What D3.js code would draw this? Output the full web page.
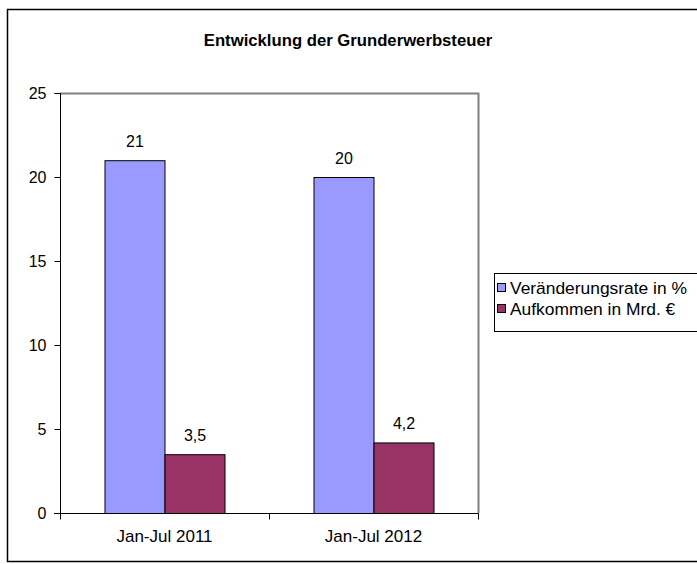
<!DOCTYPE html>
<html>
<head>
<meta charset="utf-8">
<script src="https://cdn.jsdelivr.net/npm/d3@7"></script>
<style>
  html, body { margin: 0; padding: 0; background: #fff; }
  svg { display: block; font-family: "Liberation Sans", Arial, sans-serif; }
</style>
</head>
<body>
<svg id="chart" width="697" height="564"></svg>
<script>
const title = "Entwicklung der Grunderwerbsteuer";
const categories = ["Jan-Jul 2011", "Jan-Jul 2012"];
const seriesNames = ["Veränderungsrate in %", "Aufkommen in Mrd. €"];
const seriesColors = ["#9999FF", "#993366"];
const rateValues = [21, 20];
const revenueValues = [3.5, 4.2];
const yTicks = [0, 5, 10, 15, 20, 25];

const seriesValues = [rateValues, revenueValues];
const svg = d3.select("#chart");

// outer chart border
svg.append("rect")
  .attr("x", 7.5).attr("y", 9.5)
  .attr("width", 720).attr("height", 552)
  .attr("fill", "#fff").attr("stroke", "#000").attr("stroke-width", 1.5);

const plot = { left: 60, right: 478, top: 93, bottom: 513 };

const y = d3.scaleLinear().domain([0, 25]).range([plot.bottom, plot.top]);
const x = d3.scaleBand().domain(categories)
  .range([plot.left, plot.right])
  .paddingInner(0.4258).paddingOuter(0.2129);
const xs = d3.scaleBand().domain(d3.range(seriesNames.length))
  .range([0, x.bandwidth()]);

// plot area border (gray top/right)
svg.append("path")
  .attr("d", `M${plot.left},${plot.top + 0.5}H${plot.right + 0.5}V${plot.bottom}`)
  .attr("fill", "none").attr("stroke", "#808080").attr("stroke-width", 2);

// bars
categories.forEach((c, i) => {
  seriesValues.forEach((vals, s) => {
    const v = vals[i];
    const bx = x(c) + xs(s);
    svg.append("rect")
      .attr("x", bx + 0.5).attr("y", y(v) + 0.5)
      .attr("width", xs.bandwidth()).attr("height", y(0) - y(v))
      .attr("fill", seriesColors[s]).attr("stroke", "#000").attr("stroke-width", 1);
    svg.append("text")
      .attr("x", bx + xs.bandwidth() / 2 + 0.5)
      .attr("y", y(v) - 13)
      .attr("text-anchor", "middle")
      .attr("font-size", 16)
      .text(String(v).replace(".", ","));
  });
});

// y axis
const yAxis = d3.axisLeft(y).tickValues(yTicks).tickSize(6).tickPadding(8);
const gy = svg.append("g").attr("transform", `translate(${plot.left + 0.5},0)`).call(yAxis);
gy.selectAll("text").attr("font-size", 16).attr("font-family", "Liberation Sans, Arial, sans-serif").attr("fill", "#000");
gy.selectAll("line, path").attr("stroke", "#000");
gy.select(".domain").attr("d", `M-6,${y(25) + 0.5}H0V${y(0) + 0.5}`);

// x axis
const gx = svg.append("g").attr("transform", `translate(0,${plot.bottom + 0.5})`);
gx.append("line").attr("x1", plot.left - 6).attr("x2", plot.right + 0.5)
  .attr("stroke", "#000");
const boundaries = [plot.left].concat(categories.map(c => x(c) + x.bandwidth() + x.step() * x.paddingInner() / 2));
boundaries.forEach(b => {
  gx.append("line").attr("x1", b + 0.5).attr("x2", b + 0.5)
    .attr("y1", 0).attr("y2", 6).attr("stroke", "#000");
});
categories.forEach(c => {
  gx.append("text")
    .attr("x", x(c) + x.bandwidth() / 2)
    .attr("y", 28)
    .attr("text-anchor", "middle")
    .attr("font-size", 17)
    .text(c);
});

// title
svg.append("text")
  .attr("x", 348).attr("y", 46)
  .attr("text-anchor", "middle")
  .attr("font-size", 16.7).attr("font-weight", "bold")
  .text(title);

// legend
const lg = svg.append("g");
lg.append("rect").attr("x", 494.5).attr("y", 273.5)
  .attr("width", 230).attr("height", 58)
  .attr("fill", "#fff").attr("stroke", "#000").attr("stroke-width", 1);
seriesNames.forEach((n, i) => {
  const yy = 283.5 + i * 21;
  lg.append("rect").attr("x", 497.5).attr("y", yy)
    .attr("width", 8).attr("height", 8)
    .attr("fill", seriesColors[i]).attr("stroke", "#000").attr("stroke-width", 1);
  lg.append("text").attr("x", 510).attr("y", yy + 10)
    .attr("font-size", 17.4).text(n);
});
</script>
</body>
</html>
